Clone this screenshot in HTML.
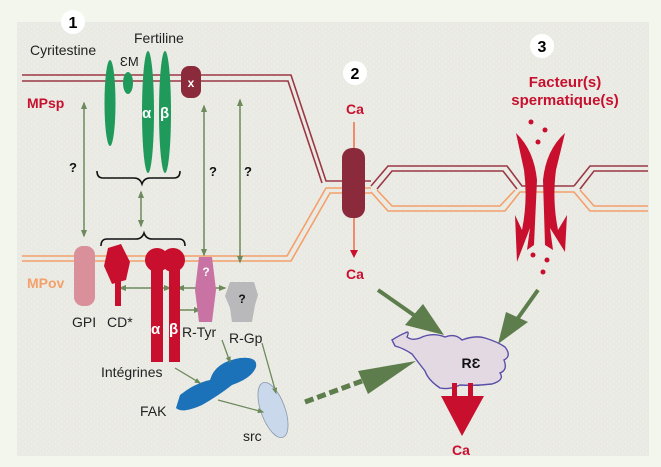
<!DOCTYPE html>
<html><head><meta charset="utf-8"><style>
html,body{margin:0;padding:0;background:#f3f6ec;}
svg{display:block}
text{font-family:"Liberation Sans","DejaVu Sans",sans-serif}
</style></head><body>
<svg width="661" height="467" viewBox="0 0 661 467" xmlns="http://www.w3.org/2000/svg">
<defs>
<pattern id="dots" width="6" height="5" patternUnits="userSpaceOnUse">
<rect width="6" height="5" fill="#e9e9e6"/><circle cx="1.5" cy="1.5" r="0.7" fill="#f7f5d8"/><circle cx="4.5" cy="3.8" r="0.6" fill="#f7f5d8"/>
</pattern>
<marker id="ga" viewBox="0 0 10 10" refX="8" refY="5" markerWidth="5" markerHeight="5" orient="auto-start-reverse"><path d="M0,1 L10,5 L0,9z" fill="#6d8a5c"/></marker>
</defs>
<rect x="0" y="0" width="661" height="467" fill="#f3f6ec"/>
<rect x="17" y="22" width="632" height="434" fill="url(#dots)"/>

<!-- MPsp membrane -->
<g fill="none" stroke="#9b3845" stroke-width="1.6">
<path d="M22,75 L291,75 L326,181 L371,181"/>
<path d="M22,81 L288,81 L322,183"/>
<path d="M371,186 L388,166 L507,166 L522,186 L574,186 M574,186 L590,166 L648,166"/>
<path d="M377,189 L392,171 L503,171 L517,189 M580,189 L594,171 L648,171"/>
</g>
<!-- MPov membrane -->
<g fill="none" stroke="#f4a06a" stroke-width="1.6">
<path d="M22,256 L287,256 L326,188 L371,188"/>
<path d="M22,261 L291,261 L330,193 L371,193"/>
<path d="M371,192 L388,211 L505,211 L520,192 L574,192 L590,211 L648,211"/>
<path d="M377,190 L392,206 L500,206 L515,190 M580,190 L594,206 L648,206"/>
</g>

<!-- numbers -->
<circle cx="73" cy="22" r="12" fill="#fff"/><text x="73" y="28" font-size="16" font-weight="bold" text-anchor="middle">1</text>
<circle cx="355" cy="73" r="12" fill="#fff"/><text x="355" y="79" font-size="16" font-weight="bold" text-anchor="middle">2</text>
<circle cx="542" cy="46" r="12" fill="#fff"/><text x="542" y="52" font-size="16" font-weight="bold" text-anchor="middle">3</text>

<text x="30" y="55" font-size="14" fill="#222">Cyritestine</text>
<text x="134" y="43" font-size="14" fill="#222">Fertiline</text>
<text x="120" y="66" font-size="13" fill="#222">ƐM</text>
<text x="27" y="108" font-size="14" font-weight="bold" fill="#c8102e">MPsp</text>
<text x="27" y="288" font-size="14" font-weight="bold" fill="#f4a06a">MPov</text>

<!-- green proteins -->
<g fill="#1f9a5a">
<ellipse cx="110" cy="103" rx="5.5" ry="43"/>
<ellipse cx="128" cy="83" rx="5" ry="11"/>
<ellipse cx="148" cy="112" rx="6" ry="61"/>
<ellipse cx="165" cy="112" rx="6" ry="61"/>
</g>
<text x="142" y="118" font-size="15" font-weight="bold" fill="#fff">α</text>
<text x="160" y="118" font-size="15" font-weight="bold" fill="#fff">β</text>
<rect x="181" y="66" width="20" height="32" rx="8" fill="#8b2a3a"/>
<text x="191" y="87" font-size="12" font-weight="bold" fill="#fff" text-anchor="middle">x</text>

<!-- vertical arrows -->
<g stroke="#6d8a5c" stroke-width="1.5" fill="none" marker-start="url(#ga)" marker-end="url(#ga)">
<line x1="84" y1="103" x2="84" y2="236"/>
<line x1="204" y1="106" x2="204" y2="255"/>
<line x1="240" y1="100" x2="240" y2="262"/>
<line x1="141" y1="192" x2="141" y2="226"/>
<line x1="120" y1="288" x2="170" y2="288"/>
<line x1="178" y1="288" x2="225" y2="288"/>
<line x1="173" y1="310" x2="200" y2="310"/>
</g>
<g font-size="13" font-weight="bold" fill="#111">
<text x="69" y="172">?</text><text x="209" y="176">?</text><text x="244" y="176">?</text>
</g>
<!-- braces -->
<path d="M97,171 q0,7 6,7 L134,178 q6,0 8,6 q2,-6 8,-6 L174,178 q6,0 6,-7" fill="none" stroke="#111" stroke-width="1.6"/>
<path d="M101,246 q0,-7 6,-7 L136,239 q6,0 8,-6 q2,6 8,6 L179,239 q6,0 6,7" fill="none" stroke="#111" stroke-width="1.6"/>

<!-- MPov proteins -->
<rect x="74" y="246" width="21" height="60" rx="9" fill="#d9909b"/>
<path d="M108,248 L121,244 L130,262 L126,280 L112,284 L104,266z" fill="#c8102e"/>
<rect x="115" y="278" width="6" height="28" fill="#c8102e"/>
<circle cx="157" cy="260" r="12" fill="#c8102e"/><circle cx="173" cy="260" r="12" fill="#c8102e"/>
<rect x="151" y="265" width="12" height="97" fill="#c8102e"/>
<rect x="169" y="265" width="11" height="97" fill="#c8102e"/>
<text x="151" y="334" font-size="15" font-weight="bold" fill="#fff">α</text>
<text x="169" y="334" font-size="15" font-weight="bold" fill="#fff">β</text>
<path d="M199,257 L212,257 L216,290 L212,322 L199,322 L195,290z" fill="#c873a3"/>
<text x="206" y="276" font-size="12" font-weight="bold" fill="#fff" text-anchor="middle">?</text>
<path d="M230,282 L254,282 L258,295 L255,305 L252,322 L232,322 L230,308 L225,296z" fill="#b9b9bb"/>
<text x="242" y="303" font-size="12" font-weight="bold" fill="#111" text-anchor="middle">?</text>

<g font-size="14" fill="#222">
<text x="72" y="327">GPI</text><text x="107" y="327">CD*</text>
<text x="182" y="337">R-Tyr</text><text x="229" y="343">R-Gp</text>
<text x="101" y="377">Intégrines</text><text x="140" y="416">FAK</text><text x="243" y="441">src</text>
</g>

<!-- FAK / src -->
<path d="M180,395 Q195,383 210,380 Q215,362 240,358 Q258,356 256,367 Q252,378 232,385 Q218,396 202,405 Q182,414 176,408z" fill="#1b72b8"/>
<ellipse cx="273" cy="410" rx="12" ry="29" transform="rotate(-20 273 410)" fill="#c9d8ea" stroke="#8899aa" stroke-width="0.8"/>
<g stroke="#6d8a5c" stroke-width="1.3" fill="none" marker-end="url(#ga)">
<line x1="175" y1="368" x2="200" y2="383"/>
<line x1="222" y1="340" x2="230" y2="362"/>
<line x1="262" y1="343" x2="276" y2="393"/>
<line x1="218" y1="400" x2="263" y2="412"/>
</g>
<line x1="305" y1="402" x2="362" y2="381" stroke="#5e7d4c" stroke-width="5" stroke-dasharray="9,4"/>
<path d="M358,371 L416,361 L368,394z" fill="#5e7d4c"/>

<!-- Ca channel -->
<line x1="354" y1="122" x2="354" y2="250" stroke="#f08060" stroke-width="1.8"/>
<path d="M350,250 L358,250 L354,258z" fill="#c8102e"/>
<rect x="342" y="148" width="23" height="70" rx="10" fill="#8b2a3a"/>
<g font-size="14" font-weight="bold" fill="#c8102e">
<text x="346" y="114">Ca</text><text x="346" y="279">Ca</text><text x="452" y="455">Ca</text>
<text x="565" y="87" text-anchor="middle" font-size="15">Facteur(s)</text>
<text x="565" y="105" text-anchor="middle" font-size="15">spermatique(s)</text>
</g>

<!-- factor arrows -->
<path d="M516,133 Q534,150 537,180 L534,245 L527,250 L530,228 L517,262 L515,215 L522,230 Q528,200 524,170z" fill="#c8102e"/>
<path d="M565,133 Q546,150 543,180 L545,245 L553,250 L550,228 L565,252 L567,215 L558,230 Q552,200 556,170z" fill="#c8102e"/>
<g fill="#c8102e">
<circle cx="531" cy="122" r="2.5"/><circle cx="545" cy="130" r="2.5"/><circle cx="538" cy="142" r="2.5"/>
<circle cx="533" cy="255" r="2.5"/><circle cx="547" cy="260" r="2.5"/><circle cx="543" cy="272" r="2.5"/>
</g>

<!-- green big arrows -->
<line x1="378" y1="290" x2="418" y2="318" stroke="#5e7d4c" stroke-width="4"/>
<path d="M405,325 L444,335 L423,304z" fill="#5e7d4c"/>
<line x1="538" y1="290" x2="518" y2="318" stroke="#5e7d4c" stroke-width="4"/>
<path d="M506,312 L498,344 L528,322z" fill="#5e7d4c"/>

<!-- RE -->
<path d="M392,340 Q400,335 405,333 Q410,330 407,337 Q412,341 420,338 Q432,332 445,337 Q455,333 462,340 Q475,335 485,338 Q498,342 505,347 Q512,356 504,360 Q508,370 500,373 Q505,380 492,384 Q475,386 460,385 Q450,390 440,388 Q428,380 425,371 Q418,362 412,354 Q403,348 395,346z" fill="#e2d9e3" stroke="#5a4fa8" stroke-width="1.4"/>
<text x="471" y="368" font-size="14" font-weight="bold" fill="#111" text-anchor="middle">RƐ</text>
<rect x="452" y="383" width="5" height="14" fill="#c8102e"/><rect x="468" y="383" width="5" height="14" fill="#c8102e"/>
<path d="M441,396 L484,396 L462,436z" fill="#c8102e"/>
</svg>
</body></html>
